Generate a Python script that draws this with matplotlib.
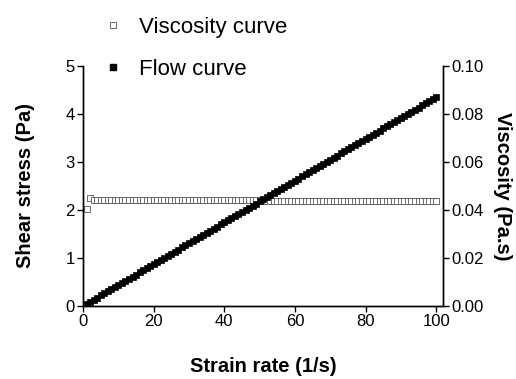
import numpy as np
import matplotlib
matplotlib.use('Agg')
import matplotlib.pyplot as plt
from matplotlib.lines import Line2D

plt.rcParams['font.family'] = ['Liberation Sans', 'DejaVu Sans']

# strain rate (1/s)
rate = list(range(1, 101))

# shear stress (Pa), flow curve
stress = [0.04, 0.09, 0.13, 0.17, 0.22, 0.26, 0.30, 0.35, 0.39, 0.44,
          0.48, 0.52, 0.57, 0.61, 0.65, 0.70, 0.74, 0.78, 0.83, 0.87,
          0.91, 0.96, 1.00, 1.04, 1.09, 1.13, 1.17, 1.22, 1.26, 1.31,
          1.35, 1.39, 1.44, 1.48, 1.52, 1.57, 1.61, 1.65, 1.70, 1.74,
          1.78, 1.83, 1.87, 1.91, 1.96, 2.00, 2.04, 2.09, 2.13, 2.18,
          2.22, 2.26, 2.31, 2.35, 2.39, 2.44, 2.48, 2.52, 2.57, 2.61,
          2.65, 2.70, 2.74, 2.78, 2.83, 2.87, 2.91, 2.96, 3.00, 3.05,
          3.09, 3.13, 3.18, 3.22, 3.26, 3.31, 3.35, 3.39, 3.44, 3.48,
          3.52, 3.57, 3.61, 3.65, 3.70, 3.74, 3.78, 3.83, 3.87, 3.92,
          3.96, 4.00, 4.05, 4.09, 4.13, 4.18, 4.22, 4.26, 4.31, 4.35]

# viscosity (Pa.s), viscosity curve
visc = [0.0404, 0.0450, 0.0443, 0.0441, 0.0441, 0.0440, 0.0440, 0.0440, 0.0440, 0.0440,
        0.0440, 0.0440, 0.0440, 0.0440, 0.0440, 0.0440, 0.0440, 0.0440, 0.0440, 0.0440,
        0.0440, 0.0440, 0.0440, 0.0440, 0.0440, 0.0440, 0.0440, 0.0440, 0.0440, 0.0440,
        0.0440, 0.0440, 0.0440, 0.0440, 0.0440, 0.0440, 0.0440, 0.0440, 0.0440, 0.0440,
        0.0440, 0.0440, 0.0440, 0.0440, 0.0440, 0.0440, 0.0440, 0.0440, 0.0440, 0.0440,
        0.0439, 0.0439, 0.0439, 0.0439, 0.0439, 0.0439, 0.0439, 0.0439, 0.0439, 0.0439,
        0.0439, 0.0439, 0.0439, 0.0439, 0.0439, 0.0439, 0.0439, 0.0439, 0.0439, 0.0439,
        0.0439, 0.0439, 0.0439, 0.0439, 0.0439, 0.0439, 0.0439, 0.0439, 0.0439, 0.0439,
        0.0439, 0.0439, 0.0439, 0.0439, 0.0439, 0.0439, 0.0439, 0.0439, 0.0439, 0.0439,
        0.0439, 0.0439, 0.0439, 0.0439, 0.0439, 0.0439, 0.0439, 0.0439, 0.0439, 0.0439]

fig = plt.figure(figsize=(5.16, 3.79), dpi=100)
ax = fig.add_axes([0.161, 0.193, 0.698, 0.633])
ax2 = ax.twinx()

ax.plot(rate, stress, ls='none', marker='s', ms=4.6, mfc='black', mec='black',
        mew=0.5, zorder=3)
ax2.plot(rate, visc, ls='none', marker='s', ms=4.4, mfc='white', mec='#555555',
         mew=0.6)
ax.set_zorder(ax2.get_zorder() + 1)
ax.patch.set_visible(False)

ax.set_xlim(0, 102)
ax.set_ylim(0, 5)
ax2.set_ylim(0, 0.10)
ax.set_xticks([0, 20, 40, 60, 80, 100])
ax.set_yticks([0, 1, 2, 3, 4, 5])
ax2.set_yticks([0, 0.02, 0.04, 0.06, 0.08, 0.10])
ax2.set_yticklabels(['0.00', '0.02', '0.04', '0.06', '0.08', '0.10'])

for a in (ax, ax2):
    a.spines['top'].set_visible(False)
    for s in a.spines.values():
        s.set_linewidth(1.0)
    a.tick_params(direction='out', length=4, width=1.0, labelsize=12, pad=2)

ax.set_xlabel('Strain rate (1/s)', fontsize=14.5, fontweight='bold', labelpad=20)
ax.set_ylabel('Shear stress (Pa)', fontsize=14.5, fontweight='bold', labelpad=22)
ax2.set_ylabel('Viscosity (Pa.s)', fontsize=14.5, fontweight='bold',
               rotation=270, labelpad=20)

handles = [Line2D([], [], ls='none', marker='s', ms=5, mfc='white', mec='#555555', mew=0.6),
           Line2D([], [], ls='none', marker='s', ms=4.5, mfc='black', mec='black')]
fig.legend(handles, ['Viscosity curve', 'Flow curve'], loc='upper left',
           bbox_to_anchor=(0.158, 1.008), frameon=False, fontsize=16,
           handlelength=1.0, handletextpad=0.7, labelspacing=0.95)

fig.savefig('out.png', dpi=100)
